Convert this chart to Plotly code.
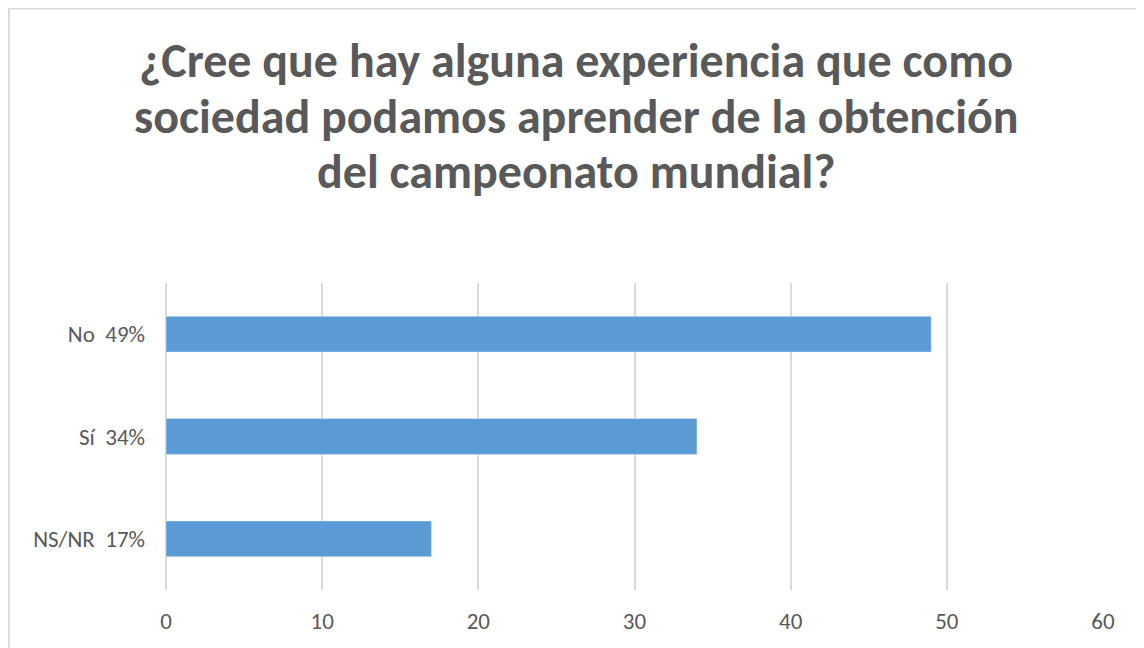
import plotly.graph_objects as go

categories = ["NS/NR\u00a0\u00a017%", "Sí\u00a0\u00a034%", "No\u00a0\u00a049%"]
values = [17, 34, 49]
x_ticks = [0, 10, 20, 30, 40, 50, 60]

title_lines = ["¿Cree que hay alguna experiencia que como",
               "sociedad podamos aprender de la obtención",
               "del campeonato mundial?"]

fig = go.Figure(go.Bar(
    x=values, y=categories, orientation="h",
    marker=dict(color="#5B9BD5"), width=0.35,
))

# page body adds an 8px margin, so the figure is drawn 8px smaller
OFF = 8
W, H = 1144 - OFF, 648 - OFF
L, R, T, B = 166 - OFF, 41, 283 - OFF, 58
pw, ph = W - L - R, H - T - B

title_centers = [61, 116, 171]  # reference pixel rows
annotations = []
for line, yc in zip(title_lines, title_centers):
    annotations.append(dict(
        text="<b>" + line + "</b>", xref="paper", yref="paper",
        x=(576 - OFF - L) / pw, y=(H - B - (yc - OFF)) / ph,
        xanchor="center", yanchor="middle", showarrow=False,
        font=dict(family="Carlito, Lato, sans-serif", size=48, color="#595959"),
    ))

fig.update_layout(
    width=W, height=H,
    margin=dict(l=L, r=R, t=T, b=B),
    paper_bgcolor="white", plot_bgcolor="white",
    font=dict(family="Carlito, Lato, sans-serif", color="#595959", size=23),
    showlegend=False,
    annotations=annotations,
    xaxis=dict(range=[0, 60], tickvals=x_ticks, showgrid=True, gridcolor="#d9d9d9",
               gridwidth=1.5, zeroline=True, zerolinecolor="#d9d9d9", zerolinewidth=1.5,
               showline=False, ticks="", ticklabelstandoff=15, fixedrange=True),
    yaxis=dict(showgrid=False, showline=False, ticks="", ticklabelstandoff=20,
               fixedrange=True),
    shapes=[dict(type="rect", xref="paper", yref="paper",
                 x0=(1 - L) / pw, x1=(1135 - L) / pw,
                 y0=-0.5, y1=(H - B - 0.5) / ph,
                 line=dict(color="#d9d9d9", width=2), layer="below")],
)

fig.write_html("out.html")
